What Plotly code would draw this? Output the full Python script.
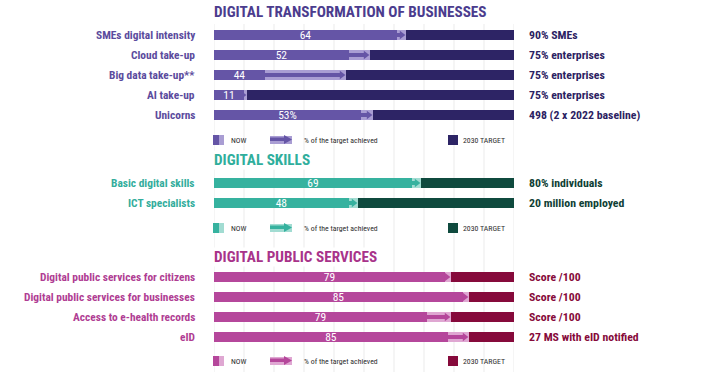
import plotly.graph_objects as go

# ---------------- data ----------------
biz_categories = ["SMEs digital intensity", "Cloud take-up", "Big data take-up**", "AI take-up", "Unicorns"]
biz_now = [61, 45, 17, 10, 49]
biz_achieved = [64, 52, 44, 11, 53]
biz_labels = ["64", "52", "44", "11", "53%"]
biz_targets = ["90% SMEs", "75% enterprises", "75% enterprises", "75% enterprises", "498 (2 x 2022 baseline)"]

skills_categories = ["Basic digital skills", "ICT specialists"]
skills_now = [66, 45]
skills_achieved = [69, 48]
skills_labels = ["69", "48"]
skills_targets = ["80% individuals", "20 million employed"]

pub_categories = ["Digital public services for citizens", "Digital public services for businesses",
                  "Access to e-health records", "eID"]
pub_now = [77, 83, 71, 78]
pub_achieved = [79, 85, 79, 85]
pub_labels = ["79", "85", "79", "85"]
pub_targets = ["Score /100", "Score /100", "Score /100", "27 MS with eID notified"]

section_titles = ["DIGITAL TRANSFORMATION OF BUSINESSES", "DIGITAL SKILLS", "DIGITAL PUBLIC SERVICES"]
legend_texts = ["NOW", "% of the target achieved", "2030 TARGET"]

# ---------------- layout / style ----------------
W, H = 709, 374
X0, X1 = 214, 514            # pixel extent of 0..100 axis
FONT = "Liberation Sans Narrow, Arial Narrow, Roboto Condensed, DejaVu Sans Condensed, sans-serif"

sections = [
    dict(cats=biz_categories, now=biz_now, ach=biz_achieved, labels=biz_labels, targets=biz_targets,
         title=section_titles[0], title_y=12, first=35, legend_y=140,
         mid="#6555a6", light="#a99dd3", dark="#2d2465", label="#5b4b9d", tcol="#2c2262", tit="#4b3c8e"),
    dict(cats=skills_categories, now=skills_now, ach=skills_achieved, labels=skills_labels, targets=skills_targets,
         title=section_titles[1], title_y=160, first=183, legend_y=228,
         mid="#36b29f", light="#a2dcd2", dark="#0f4a3e", label="#33ad9c", tcol="#0f3f35", tit="#2fae9c"),
    dict(cats=pub_categories, now=pub_now, ach=pub_achieved, labels=pub_labels, targets=pub_targets,
         title=section_titles[2], title_y=257, first=277, legend_y=361,
         mid="#b5479b", light="#dfa7d2", dark="#860a3b", label="#b03d93", tcol="#860a3a", tit="#a8338a"),
]
ROW = 20
BARW = 10
HEAD_TIP = 4.33 / 3.0  # triangle tip offset in axis units (marker size 7.5)

def px(p):
    """pixel -> paper x"""
    return p / W

fig = go.Figure()
shapes = []
annotations = []

# gridlines
for k in range(0, 101, 10):
    shapes.append(dict(type="line", xref="x", yref="y", x0=k, x1=k, y0=24, y1=372,
                       line=dict(color="#ebebeb", width=1), layer="below"))

for s in sections:
    ys = [s["first"] + i * ROW for i in range(len(s["cats"]))]
    now, ach = s["now"], s["ach"]
    fig.add_trace(go.Bar(orientation="h", y=ys, x=now, base=[0] * len(now), width=BARW,
                         marker=dict(color=s["mid"], line=dict(width=0)),
                         text=s["labels"], textposition="inside", insidetextanchor="middle",
                         textangle=0, constraintext="none",
                         textfont=dict(color="white", size=11.5, family=FONT),
                         showlegend=False, hoverinfo="skip"))
    fig.add_trace(go.Bar(orientation="h", y=ys, x=[a - n for a, n in zip(ach, now)], base=now, width=BARW,
                         marker=dict(color=s["light"], line=dict(width=0)),
                         showlegend=False, hoverinfo="skip"))
    fig.add_trace(go.Bar(orientation="h", y=ys, x=[100 - a for a in ach], base=ach, width=BARW,
                         marker=dict(color=s["dark"], line=dict(width=0)),
                         showlegend=False, hoverinfo="skip"))
    fig.add_trace(go.Bar(orientation="h", y=ys, x=[max(a - n - HEAD_TIP, 0) for a, n in zip(ach, now)],
                         base=now, width=3.5,
                         marker=dict(color=s["mid"], line=dict(width=0)),
                         showlegend=False, hoverinfo="skip"))
    fig.add_trace(go.Scatter(x=[a - HEAD_TIP for a in ach], y=ys, mode="markers",
                             marker=dict(symbol="triangle-right", size=7.5, color=s["mid"],
                                         line=dict(width=0)),
                             cliponaxis=False, showlegend=False, hoverinfo="skip"))

    for y, c, t in zip(ys, s["cats"], s["targets"]):
        annotations.append(dict(xref="paper", yref="y", x=px(197), y=y, text=c, showarrow=False,
                                xanchor="right", yanchor="middle",
                                font=dict(family=FONT, size=11.4, color=s["label"], weight="bold")))
        annotations.append(dict(xref="paper", yref="y", x=px(527), y=y, text=t, showarrow=False,
                                xanchor="left", yanchor="middle",
                                font=dict(family=FONT, size=11.8, color=s["tcol"], weight="bold")))
    annotations.append(dict(xref="paper", yref="y", x=px(213), y=s["title_y"], text=s["title"],
                            showarrow=False, xanchor="left", yanchor="middle", bgcolor="white",
                            borderpad=0,
                            font=dict(family=FONT, size=15.2, color=s["tit"], weight="bold")))

    L = s["legend_y"]
    shapes.append(dict(type="rect", xref="paper", yref="y", x0=px(213), x1=px(219), y0=L - 5, y1=L + 5,
                       fillcolor=s["mid"], line=dict(width=0)))
    shapes.append(dict(type="rect", xref="paper", yref="y", x0=px(219), x1=px(224), y0=L - 5, y1=L + 5,
                       fillcolor=s["light"], line=dict(width=0)))
    shapes.append(dict(type="rect", xref="paper", yref="y", x0=px(270), x1=px(292), y0=L - 4, y1=L + 4,
                       fillcolor=s["light"], line=dict(width=0)))
    shapes.append(dict(type="rect", xref="paper", yref="y", x0=px(270), x1=px(285), y0=L - 2.5, y1=L + 1,
                       fillcolor=s["mid"], line=dict(width=0)))
    shapes.append(dict(type="path", xref="paper", yref="y",
                       path=f"M{px(284)},{L - 5} L{px(292)},{L - 0.5} L{px(284)},{L + 4} Z",
                       fillcolor=s["mid"], line=dict(width=0)))
    shapes.append(dict(type="rect", xref="paper", yref="y", x0=px(448), x1=px(458), y0=L - 5, y1=L + 5,
                       fillcolor=s["dark"], line=dict(width=0)))
    for xx, txt in zip([229, 302, 461], legend_texts):
        annotations.append(dict(xref="paper", yref="y", x=px(xx), y=L, text=txt, showarrow=False,
                                xanchor="left", yanchor="middle",
                                font=dict(family=FONT, size=7.8, color="#2e2e2e")))

fig.update_layout(
    width=W, height=H, margin=dict(l=0, r=0, t=0, b=0),
    paper_bgcolor="white", plot_bgcolor="white",
    barmode="overlay", bargap=0,
    xaxis=dict(domain=[X0 / W, X1 / W], range=[0, 100], visible=False, fixedrange=True),
    yaxis=dict(domain=[0, 1], range=[H, 0], visible=False, fixedrange=True),
    shapes=shapes, annotations=annotations, showlegend=False,
)

fig.write_html("out.html", config={"displayModeBar": False},
               post_script="document.body.style.margin='0';document.body.style.overflow='hidden';")
